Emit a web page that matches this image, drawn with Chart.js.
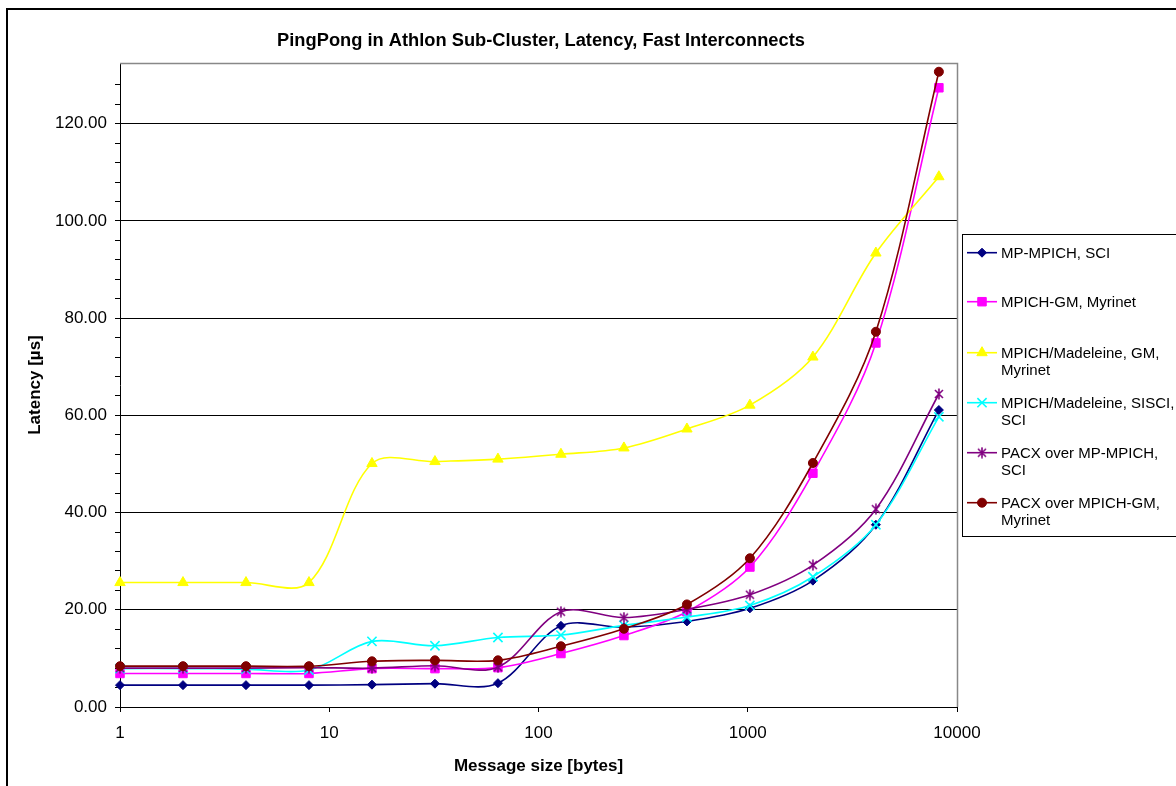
<!DOCTYPE html>
<html><head><meta charset="utf-8">
<script src="https://cdn.jsdelivr.net/npm/chart.js@4/dist/chart.umd.min.js"></script>
<style>html,body{margin:0;padding:0;background:#fff;overflow:hidden}canvas{display:block}</style>
</head><body>
<canvas id="c" width="1176" height="786"></canvas>
<script>
// ---- data ----
const messageSizes = [1, 2, 4, 8, 16, 32, 64, 128, 256, 512, 1024, 2048, 4096, 8192];
const mpMpichSci      = [4.5, 4.5, 4.5, 4.5, 4.6, 4.8, 4.9, 16.7, 16.4, 17.6, 20.3, 26.0, 37.5, 61.1];
const mpichGmMyrinet  = [6.9, 6.9, 6.9, 6.9, 7.9, 7.9, 8.1, 11.0, 14.7, 19.6, 28.8, 48.1, 74.9, 127.4];
const madeleineGm     = [25.6, 25.6, 25.6, 25.6, 50.1, 50.5, 51.0, 52.0, 53.3, 57.2, 62.1, 72.0, 93.4, 109.1];
const madeleineSisci  = [7.9, 7.9, 7.8, 7.6, 13.5, 12.6, 14.3, 14.8, 16.8, 18.5, 20.9, 26.8, 37.5, 59.7];
const pacxMpMpich     = [8.0, 8.0, 8.0, 8.1, 8.0, 8.5, 8.2, 19.6, 18.4, 20.1, 23.1, 29.2, 40.7, 64.4];
const pacxMpichGm     = [8.4, 8.4, 8.4, 8.4, 9.4, 9.6, 9.6, 12.5, 16.1, 21.1, 30.6, 50.2, 77.2, 130.7];
const seriesNames = ["MP-MPICH, SCI", "MPICH-GM, Myrinet", "MPICH/Madeleine, GM, Myrinet",
  "MPICH/Madeleine, SISCI, SCI", "PACX over MP-MPICH, SCI", "PACX over MPICH-GM, Myrinet"];
const legendLines = [["MP-MPICH, SCI"], ["MPICH-GM, Myrinet"], ["MPICH/Madeleine, GM,", "Myrinet"],
  ["MPICH/Madeleine, SISCI,", "SCI"], ["PACX over MP-MPICH,", "SCI"], ["PACX over MPICH-GM,", "Myrinet"]];
const xTickValues = [1, 10, 100, 1000, 10000];
const yMajorStep = 20;
const yMinorStep = 4;
const chartTitle = "PingPong in Athlon Sub-Cluster, Latency, Fast Interconnects";
const xTitle = "Message size [bytes]";
const yTitle = "Latency [µs]";

// ---- styles ----
const FONT = "'Liberation Sans', Arial, Helvetica, sans-serif";
const colors = ["#000080", "#FF00FF", "#FFFF00", "#00FFFF", "#800080", "#800000"];

function makeStar(color) {
  const c = document.createElement('canvas');
  c.width = 12; c.height = 12;
  const g = c.getContext('2d');
  g.strokeStyle = color; g.lineWidth = 1.6;
  g.beginPath();
  g.moveTo(2, 2); g.lineTo(10, 10);
  g.moveTo(10, 2); g.lineTo(2, 10);
  g.moveTo(6, 0.5); g.lineTo(6, 11.5);
  g.stroke();
  return c;
}
const starImg = makeStar(colors[4]);
const pointStyles = ['rectRot', 'rect', 'triangle', 'crossRot', starImg, 'circle'];
const pointRadii = [4.5, 6, 6, 6.5, 6, 4.5];
const allSeries = [mpMpichSci, mpichGmMyrinet, madeleineGm, madeleineSisci, pacxMpMpich, pacxMpichGm];

const datasets = allSeries.map((vals, i) => ({
  label: seriesNames[i],
  data: messageSizes.map((s, k) => ({x: s, y: vals[k]})),
  borderColor: colors[i],
  backgroundColor: colors[i],
  borderWidth: 1.6,
  pointStyle: pointStyles[i],
  pointRadius: pointRadii[i],
  pointBorderWidth: (i === 3) ? 1.6 : 1,
  pointBorderColor: colors[i],
  pointBackgroundColor: colors[i],
  tension: 0.33,
  clip: false,
  order: 5 - i
}));

function drawMarker(ctx, i, x, y) {
  const r = pointRadii[i];
  ctx.save();
  ctx.fillStyle = colors[i]; ctx.strokeStyle = colors[i]; ctx.lineWidth = 1;
  ctx.beginPath();
  if (i === 0) {
    ctx.moveTo(x, y - r); ctx.lineTo(x + r, y); ctx.lineTo(x, y + r); ctx.lineTo(x - r, y); ctx.closePath();
    ctx.fill(); ctx.stroke();
  } else if (i === 1) {
    const s = r * Math.SQRT1_2;
    ctx.rect(x - s, y - s, 2 * s, 2 * s); ctx.fill(); ctx.stroke();
  } else if (i === 2) {
    ctx.moveTo(x, y - r); ctx.lineTo(x + r * 0.866, y + r / 2); ctx.lineTo(x - r * 0.866, y + r / 2); ctx.closePath();
    ctx.fill(); ctx.stroke();
  } else if (i === 3) {
    const s = r * Math.SQRT1_2; ctx.lineWidth = 1.6;
    ctx.moveTo(x - s, y - s); ctx.lineTo(x + s, y + s); ctx.moveTo(x + s, y - s); ctx.lineTo(x - s, y + s); ctx.stroke();
  } else if (i === 4) {
    ctx.drawImage(starImg, x - 6, y - 6);
  } else {
    ctx.arc(x, y, r, 0, Math.PI * 2); ctx.fill(); ctx.stroke();
  }
  ctx.restore();
}

const decorPlugin = {
  id: 'decor',
  beforeDraw(chart) {
    const ctx = chart.ctx;
    ctx.save(); ctx.fillStyle = '#fff'; ctx.fillRect(0, 0, chart.width, chart.height); ctx.restore();
  },
  afterDraw(chart) {
    const ctx = chart.ctx;
    const a = chart.chartArea;
    ctx.save();
    // outer border
    ctx.strokeStyle = '#000'; ctx.lineWidth = 2;
    ctx.strokeRect(7, 9, chart.width + 10, chart.height + 10);
    // plot area top/right border
    ctx.strokeStyle = '#888'; ctx.lineWidth = 1.5;
    ctx.beginPath();
    ctx.moveTo(a.left, a.top + 0.5); ctx.lineTo(a.right + 0.5, a.top + 0.5); ctx.lineTo(a.right + 0.5, a.bottom);
    ctx.stroke();
    // title
    ctx.fillStyle = '#000';
    ctx.font = "bold 18.3px " + FONT;
    ctx.textAlign = 'center'; ctx.textBaseline = 'middle';
    ctx.fillText(chartTitle, 541, 41);
    // legend
    ctx.strokeStyle = '#000'; ctx.lineWidth = 1;
    ctx.strokeRect(962.5, 234.5, 300, 302);
    ctx.font = "15px " + FONT;
    ctx.textAlign = 'left';
    const ys = [253.5, 302.5, 353.5, 403.5, 453.5, 503.5];
    legendLines.forEach((lines, i) => {
      const y = ys[i];
      ctx.strokeStyle = colors[i]; ctx.lineWidth = 1.6;
      ctx.beginPath(); ctx.moveTo(967, y - 0.8); ctx.lineTo(997, y - 0.8); ctx.stroke();
      drawMarker(ctx, i, 982, y - 0.8);
      ctx.fillStyle = '#000';
      lines.forEach((t, k) => ctx.fillText(t, 1001, y + k * 17.5));
    });
    ctx.restore();
  }
};

Chart.defaults.font.family = FONT;
Chart.defaults.color = '#000';

new Chart(document.getElementById('c'), {
  type: 'line',
  data: { datasets },
  plugins: [decorPlugin],
  options: {
    responsive: false,
    animation: false,
    devicePixelRatio: 1,
    layout: { padding: { top: 63, right: 219, left: 0, bottom: 0 } },
    plugins: { legend: { display: false }, title: { display: false }, tooltip: { enabled: false } },
    scales: {
      x: {
        type: 'logarithmic',
        min: 1, max: 10000,
        afterBuildTicks: (s) => { s.ticks = xTickValues.map(v => ({value: v})); },
        afterFit: (s) => { s.height = 79; },
        ticks: { autoSkip: false, maxRotation: 0, padding: 11, font: { size: 17 }, color: '#000',
          callback: (v) => String(v) },
        grid: { drawOnChartArea: false, drawTicks: true, tickLength: 5, tickColor: '#000', color: '#000' },
        border: { display: true, color: '#000', width: 1 },
        title: { display: true, text: xTitle, font: { size: 17, weight: 'bold' }, color: '#000', padding: { top: 0, bottom: 9 } }
      },
      y: {
        type: 'linear',
        min: 0, max: 132.5,
        afterBuildTicks: (s) => { s.ticks = s.ticks.filter(t => Math.abs(t.value / yMinorStep - Math.round(t.value / yMinorStep)) < 1e-6); },
        afterFit: (s) => { s.width = 120; },
        ticks: { stepSize: yMinorStep, autoSkip: false, padding: 8, font: { size: 17 }, color: '#000',
          callback: (v) => (Math.abs(v % yMajorStep) < 1e-6 ? Number(v).toFixed(2) : '') },
        grid: {
          drawTicks: true, tickLength: 5, tickColor: '#000', lineWidth: 1,
          color: (c) => (c.tick && c.tick.value > 0 && Math.abs(c.tick.value % yMajorStep) < 1e-6 ? '#000' : 'rgba(0,0,0,0)')
        },
        border: { display: true, color: '#000', width: 1 },
        title: { display: true, text: yTitle, font: { size: 17, weight: 'bold' }, color: '#000', padding: { top: 25, bottom: 0 } }
      }
    }
  }
});
</script>
</body></html>
